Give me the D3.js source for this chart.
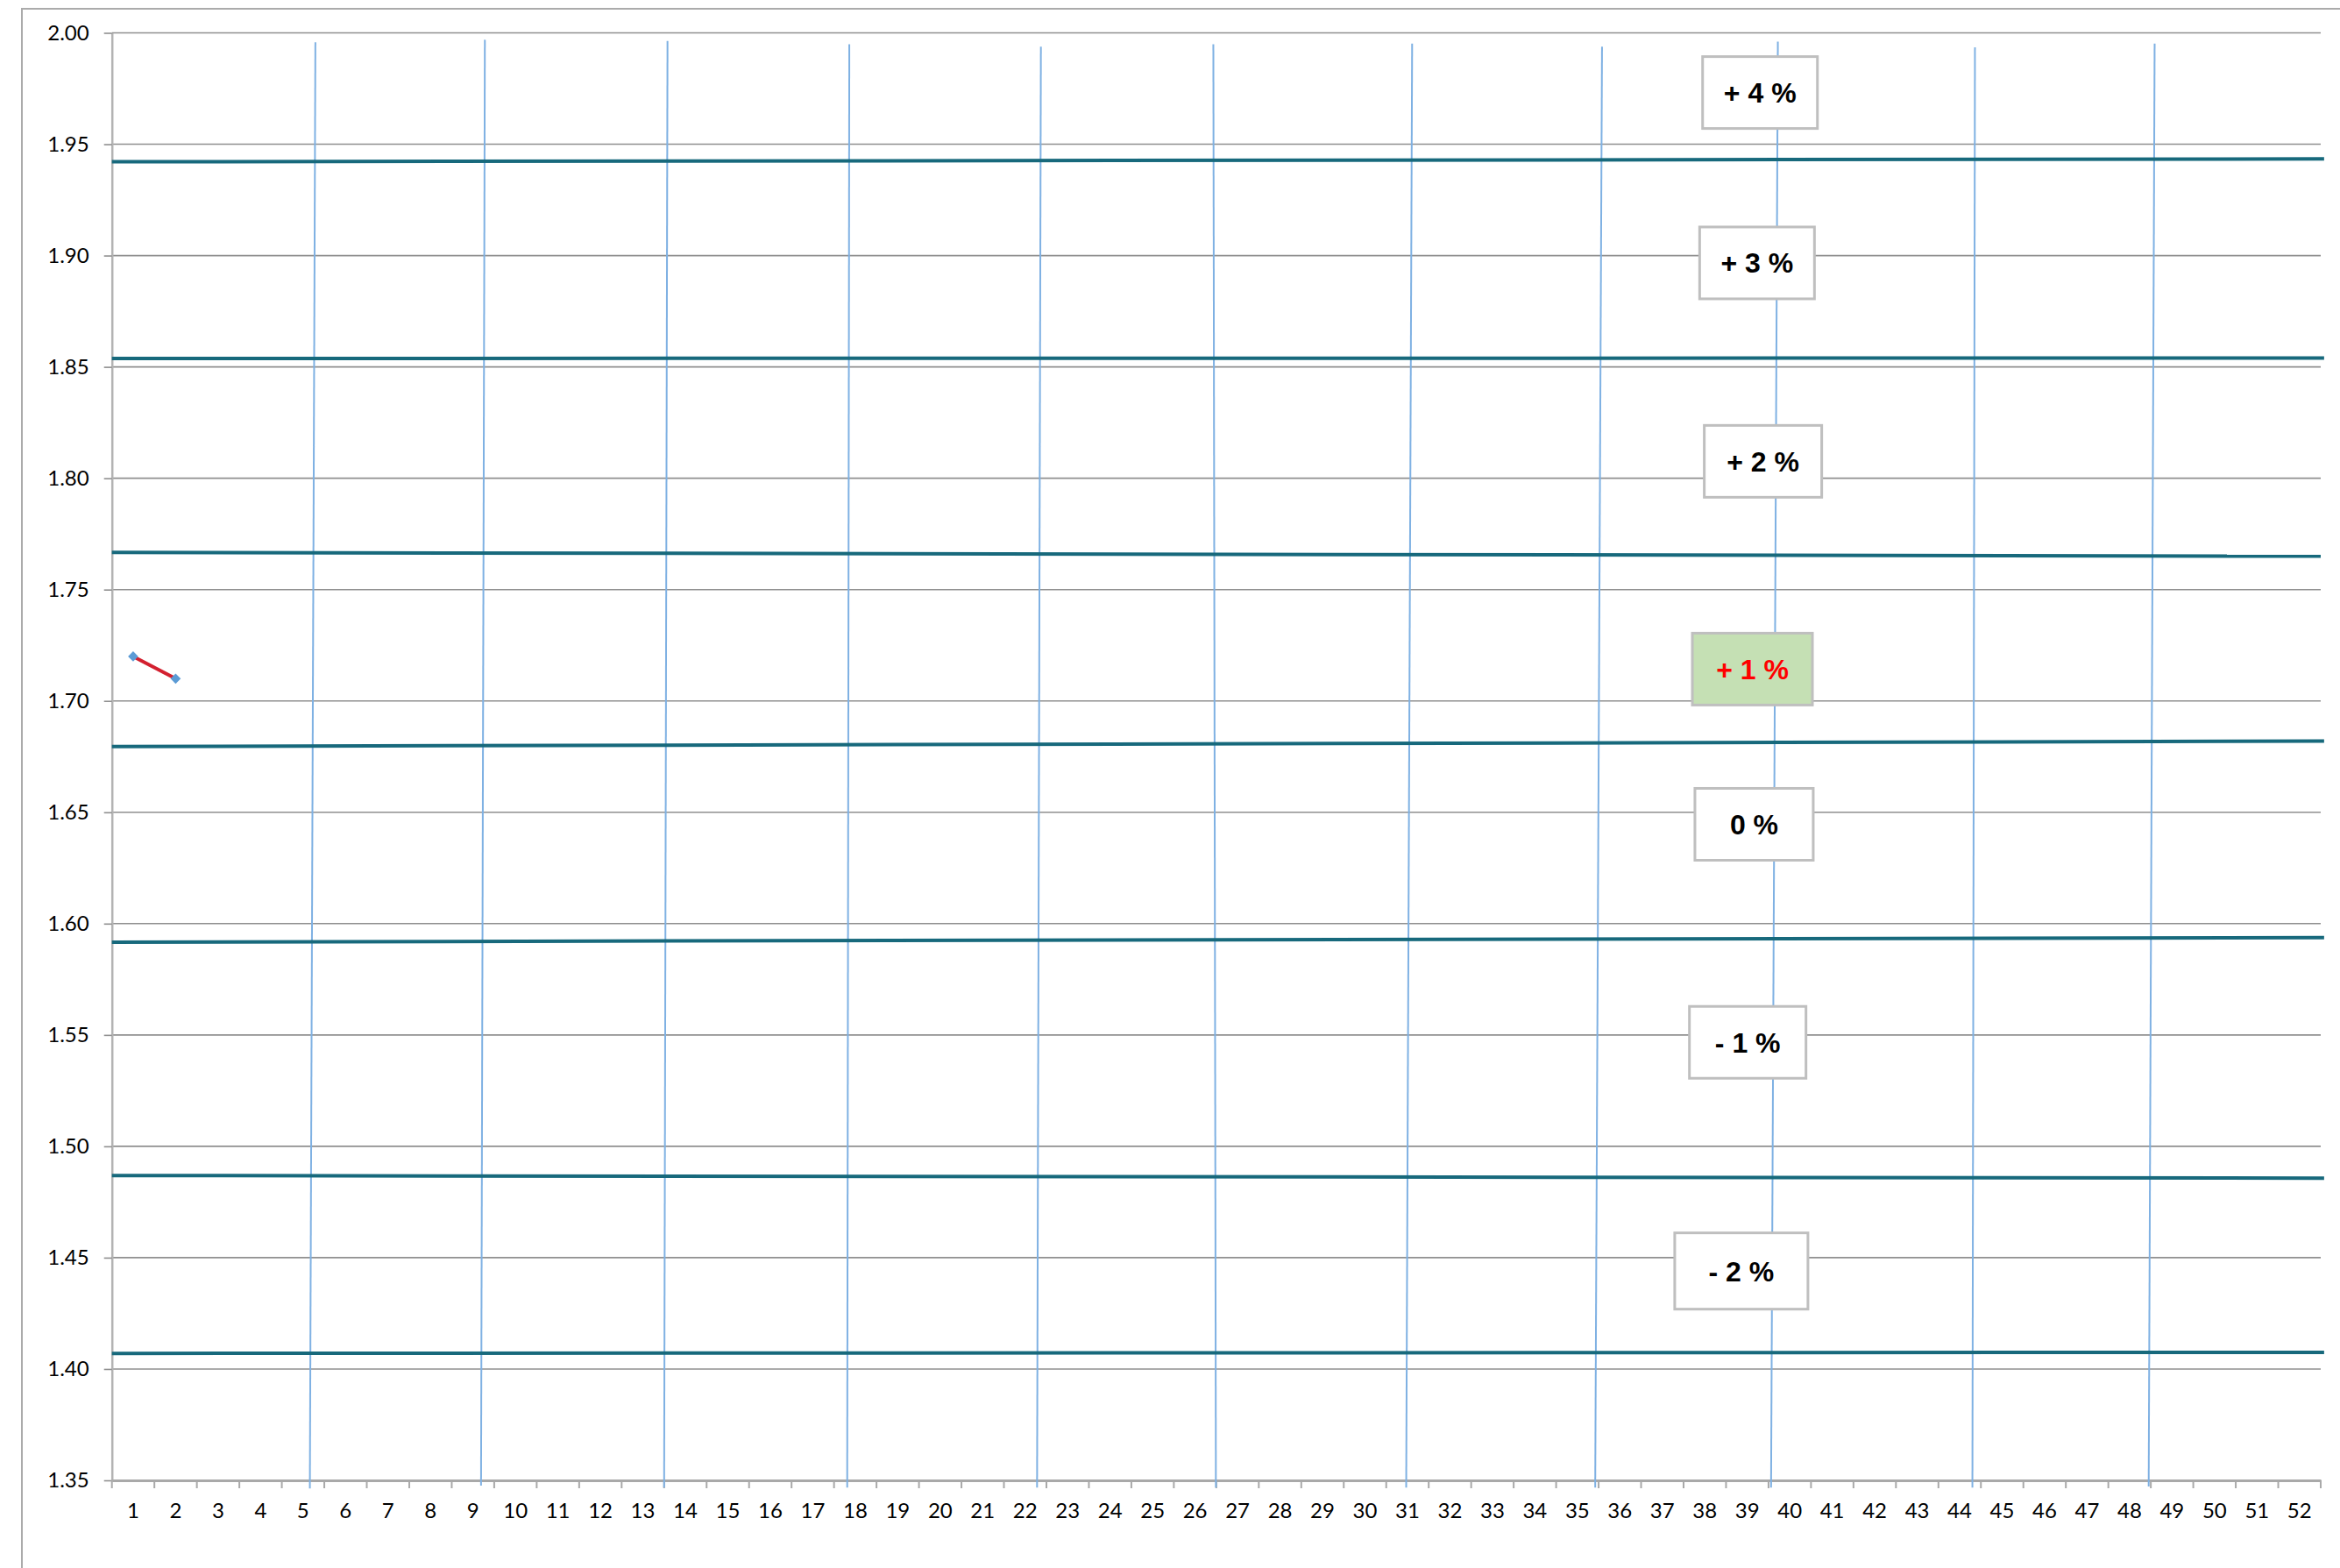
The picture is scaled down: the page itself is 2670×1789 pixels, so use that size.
<!DOCTYPE html>
<html>
<head>
<meta charset="utf-8">
<script src="https://cdn.jsdelivr.net/npm/d3@7/dist/d3.min.js"></script>
<style>
  html, body { margin: 0; padding: 0; background: #ffffff; }
  svg { display: block; }
</style>
</head>
<body>
<script>
// Week numbers on the category axis
const weeks = [1, 2, 3, 4, 5, 6, 7, 8, 9, 10, 11, 12, 13, 14, 15, 16, 17, 18, 19, 20,
  21, 22, 23, 24, 25, 26, 27, 28, 29, 30, 31, 32, 33, 34, 35, 36, 37, 38, 39, 40,
  41, 42, 43, 44, 45, 46, 47, 48, 49, 50, 51, 52];

// Value axis ticks
const yTicks = [1.35, 1.40, 1.45, 1.50, 1.55, 1.60, 1.65, 1.70, 1.75, 1.80, 1.85, 1.90, 1.95, 2.00];

// Weekly readings recorded so far
const seriesWeeks = [1, 2];
const seriesValues = [1.72, 1.71];

// Band boundary lines: [start week, start value, end week, end value]
const bandLines = [
  [0.5, 1.9421, 52.58, 1.9434],
  [0.5, 1.8538, 52.58, 1.8540],
  [0.5, 1.7667, 52.50, 1.7650],
  [0.5, 1.6795, 52.58, 1.6820],
  [0.5, 1.5917, 52.58, 1.5937],
  [0.5, 1.4869, 52.58, 1.4857],
  [0.5, 1.4070, 52.58, 1.4075]
];

// Month separators: [week at top, value at top, week at bottom, value at bottom]
const monthLines = [
  [5.29, 1.9958, 5.16, 1.3464],
  [9.28, 1.9969, 9.19, 1.3476],
  [13.58, 1.9964, 13.50, 1.3468],
  [17.86, 1.9949, 17.81, 1.3468],
  [22.37, 1.9938, 22.28, 1.3468],
  [26.43, 1.9949, 26.49, 1.3468],
  [31.11, 1.9952, 30.97, 1.3468],
  [35.58, 1.9938, 35.42, 1.3468],
  [39.72, 1.9961, 39.56, 1.3468],
  [44.36, 1.9935, 44.30, 1.3468],
  [48.59, 1.9952, 48.45, 1.3472]
];

// Band captions, anchored at (week, value) of the caption centre
const bandCaptions = ["+ 4 %", "+ 3 %", "+ 2 %", "+ 1 %", "0 %", "- 1 %", "- 2 %"];
const captionWeeks = [39.30, 39.23, 39.37, 39.12, 39.16, 39.01, 38.86];
const captionValues = [1.9732, 1.8967, 1.8076, 1.7143, 1.6446, 1.5467, 1.4440];
const activeCaption = "+ 1 %";

// ---- layout ----
const W = 2670, H = 1789;
const plotLeft = 127.7, plotRight = 2648, plotTop = 37.5, plotBottom = 1689;
const captionBoxW = [131, 131, 134, 137, 135, 133, 152];
const captionBoxH = [82, 82, 82, 82, 82, 82, 87];

const svg = d3.select("body").append("svg")
  .attr("width", W).attr("height", H)
  .attr("viewBox", `0 0 ${W} ${H}`);

const x = d3.scaleLinear().domain([0.5, 52.5]).range([plotLeft, plotRight]);
const xBand = d3.scaleBand().domain(weeks).range([plotLeft, plotRight]);
const y = d3.scaleLinear().domain([1.35, 2.00]).range([plotBottom, plotTop]);

// chart area border
svg.append("rect")
  .attr("x", 25).attr("y", 10)
  .attr("width", W + 40).attr("height", H + 40)
  .attr("fill", "none")
  .attr("stroke", "#ababab")
  .attr("stroke-width", 2);

// horizontal gridlines
svg.append("g")
  .selectAll("line")
  .data(yTicks.filter(d => d > 1.35))
  .join("line")
  .attr("x1", plotLeft).attr("x2", plotRight)
  .attr("y1", d => y(d)).attr("y2", d => y(d))
  .attr("stroke", "#8f8f8f")
  .attr("stroke-width", 1.6);

// y axis
const yAxis = svg.append("g")
  .attr("transform", `translate(${plotLeft},0)`)
  .call(d3.axisLeft(y).tickValues(yTicks).tickFormat(d3.format(".2f"))
    .tickSize(9).tickSizeOuter(0).tickPadding(17));
yAxis.select(".domain").attr("stroke", "#b3b3b3").attr("stroke-width", 2.5);
yAxis.selectAll(".tick line").attr("stroke", "#8f8f8f").attr("stroke-width", 1.6);
yAxis.selectAll(".tick text")
  .attr("font-family", "Lato, 'Open Sans', sans-serif")
  .attr("font-size", 24)
  .attr("fill", "#000");

// x axis: labels centred on weeks, tick marks on week boundaries
const xAxis = svg.append("g")
  .attr("transform", `translate(0,${plotBottom})`)
  .call(d3.axisBottom(xBand).tickSize(0).tickSizeOuter(0));
xAxis.select(".domain").attr("stroke", "#a9a9a9").attr("stroke-width", 3);
xAxis.selectAll(".tick text")
  .attr("y", 43).attr("dy", 0)
  .attr("font-family", "Lato, 'Open Sans', sans-serif")
  .attr("font-size", 24)
  .attr("fill", "#000");

const boundaries = [0].concat(weeks).map(w => w + 0.5);
svg.append("g")
  .selectAll("line")
  .data(boundaries)
  .join("line")
  .attr("x1", d => x(d)).attr("x2", d => x(d))
  .attr("y1", plotBottom).attr("y2", plotBottom + 9)
  .attr("stroke", "#a9a9a9")
  .attr("stroke-width", 2);

// month separator lines
svg.append("g")
  .selectAll("line")
  .data(monthLines)
  .join("line")
  .attr("x1", d => x(d[0])).attr("y1", d => y(d[1]))
  .attr("x2", d => x(d[2])).attr("y2", d => y(d[3]))
  .attr("stroke", "#7fb1e3")
  .attr("stroke-width", 2);

// band boundary lines
svg.append("g")
  .selectAll("line")
  .data(bandLines)
  .join("line")
  .attr("x1", d => x(d[0])).attr("y1", d => y(d[1]))
  .attr("x2", d => x(d[2])).attr("y2", d => y(d[3]))
  .attr("stroke", "#17697c")
  .attr("stroke-width", 4);

// weekly readings
const pts = seriesWeeks.map((w, i) => [w, seriesValues[i]]);
svg.append("path")
  .datum(pts)
  .attr("fill", "none")
  .attr("stroke", "#d3202f")
  .attr("stroke-width", 4)
  .attr("d", d3.line().x(d => xBand(d[0]) + xBand.bandwidth() / 2).y(d => y(d[1])));

svg.append("g")
  .selectAll("path")
  .data(pts)
  .join("path")
  .attr("d", d3.symbol(d3.symbolSquare, 68))
  .attr("transform", d => `translate(${xBand(d[0]) + xBand.bandwidth() / 2},${y(d[1])}) rotate(45)`)
  .attr("fill", "#5b9bd5");

// band captions
const caps = svg.append("g")
  .selectAll("g")
  .data(bandCaptions.map((t, i) => ({ t, w: captionWeeks[i], v: captionValues[i], bw: captionBoxW[i], bh: captionBoxH[i] })))
  .join("g")
  .attr("transform", d => `translate(${x(d.w)},${y(d.v)})`);

caps.append("rect")
  .attr("x", d => -d.bw / 2).attr("y", d => -d.bh / 2)
  .attr("width", d => d.bw).attr("height", d => d.bh)
  .attr("fill", d => d.t === activeCaption ? "#c5e0b4" : "#ffffff")
  .attr("stroke", "#bfbfbf")
  .attr("stroke-width", 3);

caps.append("text")
  .attr("text-anchor", "middle")
  .attr("y", 11.5)
  .attr("font-family", "'Liberation Sans', Arial, sans-serif")
  .attr("font-weight", "bold")
  .attr("font-size", 32)
  .attr("fill", d => d.t === activeCaption ? "#ff0000" : "#000000")
  .text(d => d.t);
</script>
</body>
</html>
